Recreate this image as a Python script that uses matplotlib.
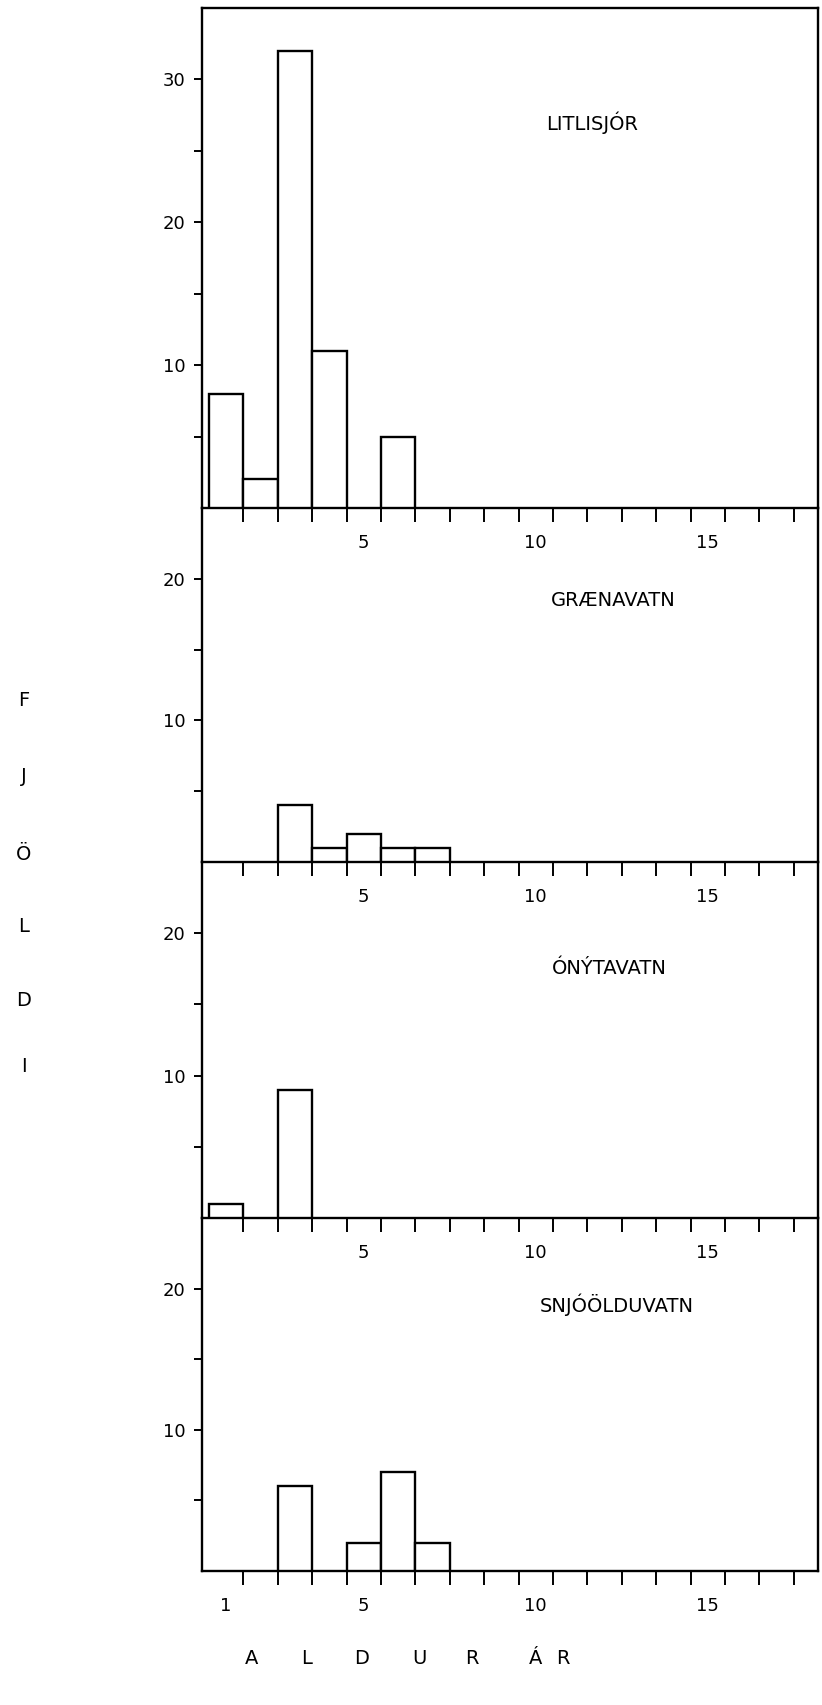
import matplotlib
matplotlib.use('Agg')
import matplotlib.pyplot as plt
from matplotlib.ticker import FixedLocator, NullFormatter

# ---------------- data ----------------
ages_litlisjor = [1, 2, 3, 4, 6]
fish_litlisjor = [8, 2, 32, 11, 5]

ages_graenavatn = [3, 4, 5, 6, 7]
fish_graenavatn = [4, 1, 2, 1, 1]

ages_onytavatn = [1, 3]
fish_onytavatn = [1, 9]

ages_snjoolduvatn = [3, 5, 6, 7]
fish_snjoolduvatn = [6, 2, 7, 2]

lake_names = ["LITLISJÓR", "GRÆNAVATN", "ÓNÝTAVATN", "SNJÓÖLDUVATN"]
y_limits = [35, 25, 25, 25]
y_major_ticks = [[10, 20, 30], [10, 20], [10, 20], [10, 20]]
y_minor_ticks = [[5, 15, 25], [5, 15], [5, 15], [5, 15]]
x_labels_upper = [5, 10, 15]
x_labels_bottom = [1, 5, 10, 15]
x_edges = [i + 0.5 for i in range(1, 18)]
y_label_letters = ["F", "J", "Ö", "L", "D", "I"]
x_label_letters = ["A", "L", "D", "U", "R", "Á", "R"]

series = [(ages_litlisjor, fish_litlisjor),
          (ages_graenavatn, fish_graenavatn),
          (ages_onytavatn, fish_onytavatn),
          (ages_snjoolduvatn, fish_snjoolduvatn)]

# ---------------- layout ----------------
W, H = 822, 1705
plt.rcParams['font.family'] = ['DejaVu Sans']
fig = plt.figure(figsize=(W / 100, H / 100), dpi=100)
fig.patch.set_facecolor('white')

left_px, right_px = 202, 818
panel_px = [(8, 508), (508, 862), (862, 1218), (1218, 1571)]
title_px = [(546, 123), (551, 601), (552, 968), (540, 1305)]
FS = 13
FS_T = 14
LW = 1.7

for i, ((ages, vals), (top, bot)) in enumerate(zip(series, panel_px)):
    ax = fig.add_axes([left_px / W, 1 - bot / H, (right_px - left_px) / W, (bot - top) / H])
    ax.patch.set_visible(False)
    ax.bar(ages, vals, width=1.0, color='white', edgecolor='black', linewidth=LW, zorder=3)
    ax.set_xlim(0.3, 18.2)
    ax.set_ylim(0, y_limits[i])

    for side in ['left', 'bottom', 'right', 'top']:
        ax.spines[side].set_linewidth(LW)
        ax.spines[side].set_color('black')
    if i > 0:
        ax.spines['top'].set_visible(False)

    # y ticks
    ax.yaxis.set_major_locator(FixedLocator(y_major_ticks[i]))
    ax.yaxis.set_minor_locator(FixedLocator(y_minor_ticks[i]))
    ax.yaxis.set_minor_formatter(NullFormatter())
    ax.tick_params(axis='y', which='both', direction='out', length=6, width=1.4,
                   labelsize=FS, pad=6, right=False)

    # x ticks: edges as unlabeled minor ticks, labels at integer ages
    labels = x_labels_bottom if i == 3 else x_labels_upper
    ax.xaxis.set_major_locator(FixedLocator(labels))
    ax.set_xticklabels([str(v) for v in labels])
    ax.xaxis.set_minor_locator(FixedLocator(x_edges))
    ax.xaxis.set_minor_formatter(NullFormatter())
    ax.tick_params(axis='x', which='major', length=0, labelsize=FS, pad=19)
    ax.tick_params(axis='x', which='minor', direction='out', length=10, width=1.4)

    tx, ty = title_px[i]
    fig.text(tx / W, 1 - ty / H, lake_names[i], fontsize=FS_T, ha='left', va='center')

# y axis label: vertical stacked letters
ylab_x = 24
ylab_y = [701, 777, 854, 926, 1000, 1066]
for letter, yy in zip(y_label_letters, ylab_y):
    fig.text(ylab_x / W, 1 - yy / H, letter, fontsize=FS_T, ha='center', va='center')

# x axis label: spaced letters
xlab_x = [252, 307, 362, 419, 472, 536, 563]
xlab_y = 1658
for letter, xx in zip(x_label_letters, xlab_x):
    fig.text(xx / W, 1 - xlab_y / H, letter, fontsize=FS_T, ha='center', va='center')

fig.savefig('out.png', dpi=100, facecolor='white')
